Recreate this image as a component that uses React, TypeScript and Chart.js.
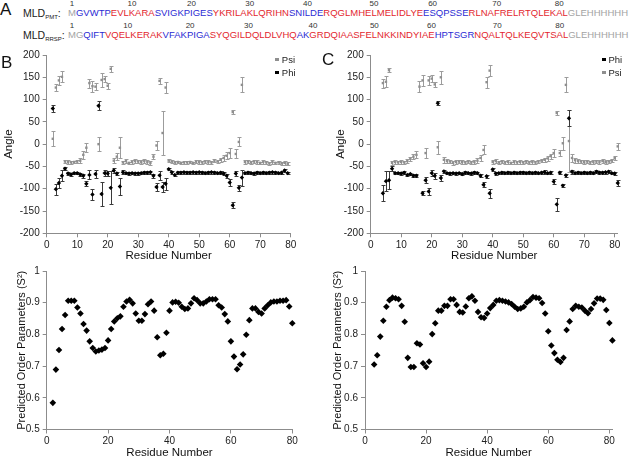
import React, { useEffect, useRef } from 'react';
import { Chart, registerables } from 'chart.js';

Chart.register(...registerables);

const FONT = "'Liberation Sans', Arial, Helvetica, sans-serif";

// ---------------- Sequence panel (A) ----------------
const seqPMT: [string, string][] = [
  ['M', 'g'], ['GVWTP', 'b'], ['EVLKARA', 'r'], ['SVIGKPIGES', 'b'], ['YKRILAKLQRIHN', 'r'],
  ['SNILDE', 'b'], ['RQGLMHELMELIDLYE', 'r'], ['ESQPSSE', 'b'], ['RLNAFRELRTQLEKAL', 'r'], ['GLEHHHHHH', 'g'],
];
const seqRRSP: [string, string][] = [
  ['MG', 'g'], ['QIFT', 'b'], ['VQELKERAK', 'r'], ['VFAKPIGA', 'b'], ['SYQGILDQLDLVHQ', 'r'],
  ['AK', 'b'], ['GRDQIAASFELNKKINDYIAE', 'r'], ['HPTSGR', 'b'], ['NQALTQLKEQVTSAL', 'r'], ['GLEHHHHHH', 'g'],
];
const seqNumbers = [1, 10, 20, 30, 40, 50, 60, 70, 80];

// ---------------- Panel B (MLD PMT) torsion angles ----------------
const bAngleResidues = [2, 3, 4, 5, 6, 7, 8, 9, 10, 11, 12, 13, 14, 15, 16, 17, 18, 19, 20, 21, 22, 23, 24, 25, 26, 27, 28, 29, 30, 31, 32, 33, 34, 35, 36, 37, 38, 39, 40, 41, 42, 43, 44, 45, 46, 47, 48, 49, 50, 51, 52, 53, 54, 55, 56, 57, 58, 59, 60, 61, 62, 63, 64, 65, 66, 67, 68, 69, 70, 71, 72, 73, 74, 75, 76, 77, 78, 79];
const bPsi = [12, 127, 143, 151, -39, -40, -41, -40, -39, -37, -24, -8, 137, 130, 129, 0, 144, 146, 131, 169, -37, -28, -8, -41, -38, -42, -40, -38, -39, -40, -38, -40, -42, -28, -3, 142, 25, 127, -37, -39, -41, -40, -42, -41, -41, -40, -42, -39, -40, -41, -39, -40, -41, -37, -39, -35, -31, -26, -20, 72, -22, 5, 133, -40, -39, -41, -39, -40, -42, -40, -41, -43, -40, -42, -41, -43, -42, -44];
const bPsiErr = [17, 7, 10, 12, 4, 4, 4, 3, 4, 5, 9, 10, 10, 12, 8, 15, 15, 7, 7, 7, 5, 8, 24, 4, 4, 3, 4, 4, 4, 4, 4, 4, 4, 6, 10, 7, 50, 12, 4, 4, 3, 3, 3, 3, 3, 3, 3, 4, 4, 3, 4, 4, 4, 4, 4, 5, 6, 8, 11, 5, 10, 10, 17, 4, 4, 3, 4, 4, 3, 4, 3, 3, 4, 3, 3, 3, 4, 3];
const bPhi = [80, -101, -87, -71, -55, -66, -68, -65, -65, -68, -71, -89, -69, -113, -67, 86, -112, -65, -66, -98, -59, -66, -95, -63, -65, -66, -65, -66, -66, -65, -64, -64, -63, -71, -96, -70, -96, -89, -56, -63, -69, -64, -64, -63, -64, -64, -63, -64, -63, -64, -65, -64, -63, -64, -65, -64, -66, -71, -86, -137, -66, -98, -75, -65, -64, -65, -66, -64, -65, -64, -65, -64, -63, -64, -65, -64, -59, -65];
const bPhiErr = [8, 12, 12, 12, 3, 3, 3, 3, 3, 4, 5, 6, 10, 12, 10, 10, 27, 6, 6, 37, 5, 4, 20, 4, 3, 3, 3, 3, 3, 3, 3, 3, 3, 5, 8, 10, 12, 14, 3, 3, 3, 3, 3, 3, 3, 3, 3, 3, 3, 3, 3, 3, 3, 3, 3, 3, 3, 4, 8, 7, 6, 6, 18, 3, 3, 3, 3, 3, 3, 3, 3, 3, 3, 3, 3, 3, 3, 3];

// ---------------- Panel C (MLD RRSP) torsion angles ----------------
const cAngleResidues = [4, 5, 6, 7, 8, 9, 10, 11, 12, 13, 14, 15, 16, 17, 18, 19, 20, 21, 22, 23, 24, 25, 26, 27, 28, 29, 30, 31, 32, 33, 34, 35, 36, 37, 38, 39, 40, 41, 42, 43, 44, 45, 46, 47, 48, 49, 50, 51, 52, 53, 54, 55, 56, 57, 58, 59, 60, 61, 62, 63, 64, 65, 66, 67, 68, 69, 70, 71, 72, 73, 74, 75, 76, 77, 78, 79, 80, 81];
const cPsi = [137, 140, 166, -42, -40, -41, -40, -41, -38, -33, -28, -24, 129, 143, -20, 143, 147, 134, -7, 150, -35, -38, -39, -42, -40, -39, -40, -41, -39, -41, -40, -37, -31, -13, 139, 165, -40, -38, -41, -39, -41, -40, -42, -40, -41, -40, -41, -39, -41, -40, -41, -39, -37, -35, -32, -27, -20, 70, -20, 2, 133, 7, -31, -36, -38, -39, -40, -39, -41, -40, -39, -40, -38, -40, -39, -37, -31, -5];
const cPsiErr = [10, 12, 4, 4, 4, 4, 4, 4, 4, 5, 6, 8, 12, 12, 12, 10, 8, 6, 15, 15, 7, 5, 4, 4, 4, 4, 4, 4, 4, 4, 4, 5, 6, 10, 12, 12, 4, 4, 4, 4, 4, 4, 3, 4, 4, 4, 4, 4, 4, 4, 4, 4, 4, 5, 5, 6, 8, 5, 6, 15, 17, 69, 10, 6, 5, 4, 4, 4, 4, 4, 4, 4, 4, 4, 4, 4, 5, 8];
const cPhi = [-110, -83, -81, -55, -65, -65, -66, -64, -69, -67, -71, -71, null, -110, -81, -106, -65, -71, 92, -76, -61, -65, -66, -65, -66, -65, -67, -64, -65, -66, -64, -65, -71, -91, -72, -110, -57, -66, -65, -64, -65, -64, -65, -64, -65, -64, -64, -65, -64, -65, -64, -65, -64, -63, -65, -64, -84, -135, -64, -93, -70, 58, -62, -65, -64, -65, -64, -65, -64, -65, -62, -64, -64, -63, -62, -65, -66, -87];
const cPhiErr = [18, 22, 20, 5, 3, 3, 3, 3, 3, 3, 3, 3, null, 5, 7, 7, 7, 7, 4, 6, 4, 3, 3, 3, 3, 3, 3, 3, 3, 3, 3, 3, 3, 5, 3, 10, 3, 3, 3, 3, 3, 3, 3, 3, 3, 3, 3, 3, 3, 3, 3, 3, 3, 4, 3, 4, 5, 15, 4, 3, 3, 18, 4, 3, 3, 3, 3, 3, 3, 3, 3, 3, 3, 3, 3, 3, 3, 6];

// ---------------- Predicted order parameters ----------------
const bS2Residues = [2, 3, 4, 5, 6, 7, 8, 9, 10, 11, 12, 13, 14, 15, 16, 17, 18, 19, 20, 21, 22, 23, 24, 25, 26, 27, 28, 29, 30, 31, 32, 33, 34, 35, 36, 37, 38, 39, 40, 41, 42, 43, 44, 45, 46, 47, 48, 49, 50, 51, 52, 53, 54, 55, 56, 57, 58, 59, 60, 61, 62, 63, 64, 65, 66, 67, 68, 69, 70, 71, 72, 73, 74, 75, 76, 77, 78, 79, 80];
const bS2 = [0.584, 0.689, 0.751, 0.817, 0.861, 0.906, 0.906, 0.906, 0.885, 0.866, 0.833, 0.812, 0.778, 0.757, 0.746, 0.749, 0.752, 0.757, 0.781, 0.817, 0.841, 0.851, 0.857, 0.887, 0.904, 0.909, 0.898, 0.866, 0.843, 0.843, 0.864, 0.895, 0.904, 0.875, 0.791, 0.734, 0.739, 0.805, 0.875, 0.901, 0.903, 0.9, 0.887, 0.88, 0.882, 0.898, 0.914, 0.908, 0.898, 0.898, 0.904, 0.911, 0.911, 0.911, 0.892, 0.885, 0.864, 0.841, 0.778, 0.73, 0.69, 0.705, 0.737, 0.799, 0.845, 0.882, 0.882, 0.871, 0.866, 0.882, 0.892, 0.901, 0.904, 0.904, 0.906, 0.906, 0.908, 0.888, 0.835];
const cS2Residues = [3, 4, 5, 6, 7, 8, 9, 10, 11, 12, 13, 14, 15, 16, 17, 18, 19, 20, 21, 22, 23, 24, 25, 26, 27, 28, 29, 30, 31, 32, 33, 34, 35, 36, 37, 38, 39, 40, 41, 42, 43, 44, 45, 46, 47, 48, 49, 50, 51, 52, 53, 54, 55, 56, 57, 58, 59, 60, 61, 62, 63, 64, 65, 66, 67, 68, 69, 70, 71, 72, 73, 74, 75, 76, 77, 78, 79, 80, 81];
const cS2 = [0.705, 0.734, 0.793, 0.843, 0.887, 0.908, 0.916, 0.914, 0.911, 0.89, 0.84, 0.726, 0.697, 0.697, 0.772, 0.768, 0.709, 0.697, 0.714, 0.801, 0.835, 0.875, 0.875, 0.89, 0.89, 0.911, 0.911, 0.893, 0.871, 0.869, 0.888, 0.914, 0.92, 0.906, 0.871, 0.854, 0.852, 0.866, 0.883, 0.893, 0.906, 0.908, 0.906, 0.904, 0.901, 0.896, 0.887, 0.88, 0.882, 0.887, 0.901, 0.908, 0.918, 0.916, 0.914, 0.899, 0.866, 0.81, 0.765, 0.741, 0.72, 0.713, 0.726, 0.814, 0.841, 0.88, 0.89, 0.887, 0.885, 0.875, 0.867, 0.88, 0.898, 0.913, 0.913, 0.909, 0.877, 0.836, 0.781];

// ---------------- Axis ticks ----------------
const angleTicks = [-200, -150, -100, -50, 0, 50, 100, 150, 200];
const s2Ticks = [0.5, 0.6, 0.7, 0.8, 0.9, 1];
const residueTicksTop = [0, 10, 20, 30, 40, 50, 60, 70, 80];
const residueTicksBottom = [0, 20, 40, 60, 80];

// ---------------- styling ----------------
const AXIS = '#8c8c8c';
const PSI_COLOR = '#8f8f8f';
const PSI_BAR = '#9c9c9c';
const PHI_COLOR = '#000000';
const PHI_BAR = '#3a3a3a';
const SEQ_COLORS: Record<string, string> = { g: '#a3a3a3', b: '#2b2bd4', r: '#e3262e' };

type Geo = { left: number; top: number; width: number; height: number; plotL: number; plotT: number; plotR: number; plotB: number };

const GEO_BT: Geo = { left: 0, top: 45, width: 320, height: 220, plotL: 46.7, plotT: 55, plotR: 290.7, plotB: 233.3 };
const GEO_CT: Geo = { left: 330, top: 45, width: 312, height: 220, plotL: 370.7, plotT: 55, plotR: 617.75, plotB: 233.3 };
const GEO_BB: Geo = { left: 0, top: 262, width: 320, height: 195, plotL: 46.7, plotT: 270, plotR: 292.3, plotB: 429.5 };
const GEO_CB: Geo = { left: 330, top: 262, width: 312, height: 195, plotL: 365, plotT: 270, plotR: 612.4, plotB: 429.5 };

const errorBarPlugin = {
  id: 'errorBars',
  beforeDatasetsDraw(chart: any) {
    const { ctx } = chart;
    const xs = chart.scales.x;
    const ys = chart.scales.y;
    ctx.save();
    chart.data.datasets.forEach((ds: any) => {
      if (!ds.errColor) return;
      ctx.strokeStyle = ds.errColor;
      ctx.lineWidth = 1;
      ds.data.forEach((p: any) => {
        if (p.e == null) return;
        const px = Math.round(xs.getPixelForValue(p.x)) + 0.5;
        const y1 = Math.round(ys.getPixelForValue(p.y + p.e)) + 0.5;
        const y2 = Math.round(ys.getPixelForValue(p.y - p.e)) + 0.5;
        ctx.beginPath();
        ctx.moveTo(px, y1);
        ctx.lineTo(px, y2);
        ctx.moveTo(px - 2, y1);
        ctx.lineTo(px + 2, y1);
        ctx.moveTo(px - 2, y2);
        ctx.lineTo(px + 2, y2);
        ctx.stroke();
      });
    });
    ctx.restore();
  },
};

function points(xs: number[], ys: (number | null)[], errs?: (number | null)[]) {
  const out: any[] = [];
  xs.forEach((x, i) => {
    const y = ys[i];
    if (y == null) return;
    out.push({ x, y, e: errs ? errs[i] : null });
  });
  return out;
}

type Spec = {
  geo: Geo;
  xMax: number;
  xTicks: number[];
  yMin: number;
  yMax: number;
  yTicks: number[];
  yTitle: string;
  yTitleSize: number;
  yTitlePad: number;
  xTitlePad: number;
  datasets: any[];
};

function buildChart(canvas: HTMLCanvasElement, spec: Spec) {
  const g = spec.geo;
  const tickFont = { family: FONT, size: 10 };
  return new Chart(canvas, {
    type: 'scatter',
    data: { datasets: spec.datasets },
    plugins: [errorBarPlugin],
    options: {
      responsive: false,
      animation: false,
      devicePixelRatio: 1,
      events: [],
      layout: { padding: { top: g.plotT - g.top, right: g.left + g.width - g.plotR, left: 0, bottom: 0 } },
      plugins: { legend: { display: false }, tooltip: { enabled: false } },
      scales: {
        x: {
          type: 'linear',
          min: 0,
          max: spec.xMax,
          afterBuildTicks: (s: any) => { s.ticks = spec.xTicks.map((v) => ({ value: v })); },
          afterFit: (s: any) => { s.height = g.top + g.height - g.plotB; },
          grid: { display: true, drawOnChartArea: false, drawTicks: true, tickLength: 4, color: AXIS, lineWidth: 1 },
          border: { display: true, color: AXIS, width: 1 },
          ticks: { font: tickFont, color: '#222', padding: 2, maxRotation: 0, autoSkip: false, callback: (v: any) => String(v) },
          title: { display: true, text: 'Residue Number', color: '#111', font: { family: FONT, size: 11.5, lineHeight: 1.2 }, padding: { top: 0, bottom: spec.xTitlePad } },
        },
        y: {
          type: 'linear',
          min: spec.yMin,
          max: spec.yMax,
          afterBuildTicks: (s: any) => { s.ticks = spec.yTicks.map((v) => ({ value: v })); },
          afterFit: (s: any) => { s.width = g.plotL - g.left; },
          grid: { display: true, drawOnChartArea: false, drawTicks: true, tickLength: 4, color: AXIS, lineWidth: 1 },
          border: { display: true, color: AXIS, width: 1 },
          ticks: { font: tickFont, color: '#222', padding: 3, autoSkip: false, callback: (v: any) => String(v) },
          title: { display: true, text: spec.yTitle, color: '#111', font: { family: FONT, size: spec.yTitleSize, lineHeight: 1.2 }, padding: { top: spec.yTitlePad, bottom: 0 } },
        },
      },
    } as any,
  });
}

function psiSet(xs: number[], ys: number[], es: number[]) {
  return { label: 'Psi', data: points(xs, ys, es), errColor: PSI_BAR, pointStyle: 'rect', pointRadius: 1.7, pointBackgroundColor: PSI_COLOR, pointBorderWidth: 0, clip: false };
}
function phiSet(xs: number[], ys: (number | null)[], es: (number | null)[]) {
  return { label: 'Phi', data: points(xs, ys, es), errColor: PHI_BAR, pointStyle: 'rectRot', pointRadius: 2.2, pointBackgroundColor: PHI_COLOR, pointBorderWidth: 0, clip: false };
}
function s2Set(xs: number[], ys: number[]) {
  return { label: 'S2', data: points(xs, ys), pointStyle: 'rectRot', pointRadius: 3.3, pointBackgroundColor: '#000', pointBorderWidth: 0, clip: false };
}

function SeqLine({ segments, top }: { segments: [string, string][]; top: number }) {
  let idx = 0;
  const spans: any[] = [];
  segments.forEach(([txt, col], si) => {
    txt.split('').forEach((ch, ci) => {
      idx += 1;
      const n = idx;
      const labelled = seqNumbers.indexOf(n) >= 0;
      spans.push(
        <span key={si + '-' + ci} style={{ color: SEQ_COLORS[col], position: labelled ? 'relative' : undefined }}>
          {labelled && (
            <span style={{ position: 'absolute', left: '50%', top: -7.4, transform: 'translateX(-50%)', fontSize: 8, lineHeight: '8px', color: '#333' }}>{n}</span>
          )}
          {ch}
        </span>
      );
    });
  });
  return (
    <div style={{ position: 'absolute', left: 68, top, fontSize: 9.5, lineHeight: '10px', whiteSpace: 'nowrap' }}>{spans}</div>
  );
}

function SeqLabel({ sub, top }: { sub: string; top: number }) {
  return (
    <div style={{ position: 'absolute', left: 23, top, fontSize: 10.5, lineHeight: '10px', whiteSpace: 'nowrap', color: '#222' }}>
      MLD<span style={{ fontSize: 6, verticalAlign: -2 }}>{sub}</span>:
    </div>
  );
}

function LegendRow({ x, y, color, text }: { x: number; y: number; color: string; text: string }) {
  return (
    <div style={{ position: 'absolute', left: x - 2, top: y - 6.5, height: 13, lineHeight: '13px', fontSize: 9.5, whiteSpace: 'nowrap', color: '#222' }}>
      <span style={{ position: 'absolute', left: 0, top: 5, width: 3.5, height: 3.5, background: color }} />
      <span style={{ position: 'absolute', left: 6.5, top: 0 }}>{text}</span>
    </div>
  );
}

function PanelLetter({ x, top, text }: { x: number; top: number; text: string }) {
  return <div style={{ position: 'absolute', left: x, top, fontSize: 17, lineHeight: '17px', color: '#111' }}>{text}</div>;
}

export default function App() {
  const bt = useRef<HTMLCanvasElement>(null);
  const ct = useRef<HTMLCanvasElement>(null);
  const bb = useRef<HTMLCanvasElement>(null);
  const cb = useRef<HTMLCanvasElement>(null);

  useEffect(() => {
    const charts: Chart[] = [];
    if (bt.current) {
      charts.push(buildChart(bt.current, {
        geo: GEO_BT, xMax: 80, xTicks: residueTicksTop, yMin: -200, yMax: 200, yTicks: angleTicks,
        yTitle: 'Angle', yTitleSize: 11.5, yTitlePad: 2.1, xTitlePad: 2.3,
        datasets: [psiSet(bAngleResidues, bPsi, bPsiErr), phiSet(bAngleResidues, bPhi, bPhiErr)],
      }));
    }
    if (ct.current) {
      charts.push(buildChart(ct.current, {
        geo: GEO_CT, xMax: 81, xTicks: residueTicksTop, yMin: -200, yMax: 200, yTicks: angleTicks,
        yTitle: 'Angle', yTitleSize: 11.5, yTitlePad: 4.1, xTitlePad: 2.3,
        datasets: [psiSet(cAngleResidues, cPsi, cPsiErr), phiSet(cAngleResidues, cPhi, cPhiErr)],
      }));
    }
    if (bb.current) {
      charts.push(buildChart(bb.current, {
        geo: GEO_BB, xMax: 80, xTicks: residueTicksBottom, yMin: 0.5, yMax: 1, yTicks: s2Ticks,
        yTitle: 'Predicted Order Parameters (S\u00B2)', yTitleSize: 11, yTitlePad: 14.9, xTitlePad: -2.3,
        datasets: [s2Set(bS2Residues, bS2)],
      }));
    }
    if (cb.current) {
      charts.push(buildChart(cb.current, {
        geo: GEO_CB, xMax: 81, xTicks: residueTicksBottom, yMin: 0.5, yMax: 1, yTicks: s2Ticks,
        yTitle: 'Predicted Order Parameters (S\u00B2)', yTitleSize: 11, yTitlePad: 1.4, xTitlePad: -2.3,
        datasets: [s2Set(cS2Residues, cS2)],
      }));
    }
    return () => { charts.forEach((c) => c.destroy()); };
  }, []);

  const cv = (g: Geo) => ({ position: 'absolute' as const, left: g.left, top: g.top, width: g.width, height: g.height, display: 'block' });

  return (
    <div style={{ position: 'absolute', left: 0, top: 0, width: 642, height: 457, background: '#fff', fontFamily: FONT, overflow: 'hidden' }}>
      <PanelLetter x={0} top={1} text="A" />
      <SeqLabel sub="PMT" top={7.8} />
      <SeqLabel sub="RRSP" top={30} />
      <SeqLine segments={seqPMT} top={8.1} />
      <SeqLine segments={seqRRSP} top={30.1} />

      <canvas ref={bt} width={GEO_BT.width} height={GEO_BT.height} style={cv(GEO_BT)} />
      <canvas ref={ct} width={GEO_CT.width} height={GEO_CT.height} style={cv(GEO_CT)} />
      <canvas ref={bb} width={GEO_BB.width} height={GEO_BB.height} style={cv(GEO_BB)} />
      <canvas ref={cb} width={GEO_CB.width} height={GEO_CB.height} style={cv(GEO_CB)} />

      <PanelLetter x={1} top={53.6} text="B" />
      <PanelLetter x={322} top={50.6} text="C" />

      <LegendRow x={277.3} y={59} color={PSI_COLOR} text="Psi" />
      <LegendRow x={277.3} y={72.3} color={PHI_COLOR} text="Phi" />
      <LegendRow x={604} y={59} color={PHI_COLOR} text="Phi" />
      <LegendRow x={604} y={72.3} color={PSI_COLOR} text="Psi" />
    </div>
  );
}
